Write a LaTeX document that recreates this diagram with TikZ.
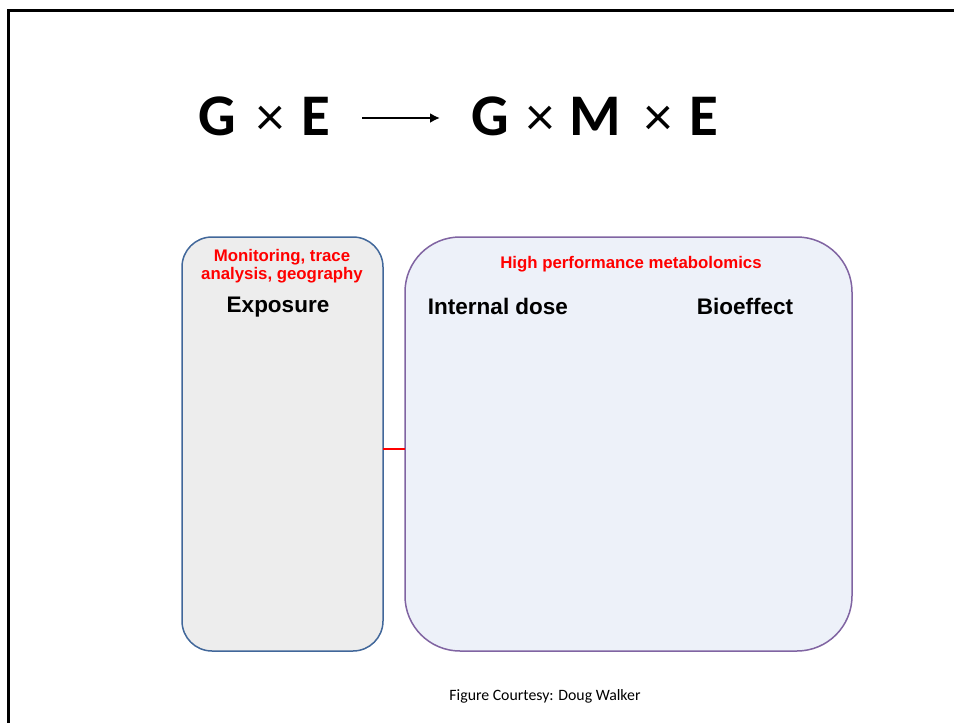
\documentclass[tikz,border=0pt]{standalone}
\usepackage{fontspec}
\setmainfont{Liberation Sans}
\newfontfamily\calib{Carlito}
\usetikzlibrary{arrows.meta}
\definecolor{expfill}{HTML}{EDEDED}
\definecolor{expline}{HTML}{41679A}
\definecolor{metfill}{HTML}{EDF1F9}
\definecolor{metline}{HTML}{8064A2}
\definecolor{redtxt}{HTML}{FF0000}
\tikzset{
  redlabel/.style={text=redtxt, font=\fontsize{16.8}{18.5}\selectfont\bfseries, align=center, inner sep=0pt},
  blklabel/.style={text=black, font=\fontsize{22.5}{26}\selectfont\bfseries, inner sep=0pt},
  titletxt/.style={font=\calib\fontsize{59}{66}\selectfont\bfseries, inner sep=0pt, anchor=base},
  timestxt/.style={font=\calib\fontsize{56}{66}\selectfont, inner sep=0pt, anchor=base},
}
\begin{document}
\begin{tikzpicture}[x=1pt,y=-1pt]
\useasboundingbox (0,0) rectangle (954,723);
% frame
\draw[line width=3pt, line cap=rect] (8,724) -- (8,10) -- (955,10);
% title
\node[titletxt] (g1) at (217.5,135) {G};
\node[timestxt] (x1) at (270,135) {×};
\node[titletxt] (e1) at (316,135) {E};
\node[titletxt] (g2) at (490,135) {G};
\node[timestxt] (x2) at (540.5,135) {×};
\node[titletxt] (m2) at (595,135) {M};
\node[timestxt] (x3) at (658.5,135) {×};
\node[titletxt] (e2) at (704,135) {E};
\coordinate (arA) at (362,118);
\coordinate (arB) at (440,118);
\draw[line width=2.8pt, -{Latex[length=10pt,width=10pt]}] (arA) -- (arB);
% boxes
\draw[expline, fill=expfill, line width=1.5pt, rounded corners=30pt] (182,237) rectangle (383,651);
\coordinate (expE) at (383,449);
\draw[metline, fill=metfill, line width=1.5pt, rounded corners=55pt] (405,237) rectangle (852,651);
\coordinate (metW) at (405,449);
\draw[redtxt, line width=2pt] (expE) -- (metW);
% texts
\node[redlabel] (mon) at (282,266) {Monitoring, trace\\analysis, geography};
\node[blklabel] (expo) at (278,307) {Exposure};
\node[redlabel] (hpm) at (631,264) {High performance metabolomics};
\node[blklabel] (intd) at (498,306) {Internal dose};
\node[blklabel] (bio) at (745,306) {Bioeffect};
\node[font=\calib\fontsize{15.8}{18}\selectfont, inner sep=0pt] (fig) at (545,696) {Figure Courtesy: Doug Walker};
\end{tikzpicture}
\end{document}
